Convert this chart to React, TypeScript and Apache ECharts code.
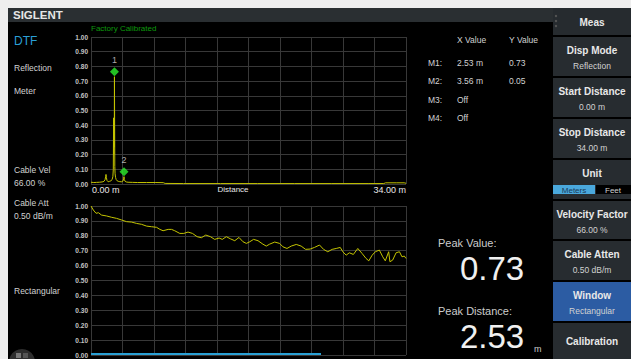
import React, { useEffect, useRef } from "react";
import * as echarts from "echarts";

// DTF trace (distance in m, reflection coefficient)
const distM = [0, 0.3, 0.6, 0.9, 1.2, 1.4, 1.52, 1.58, 1.62, 1.66, 1.72, 1.85, 2.0, 2.15, 2.28, 2.36, 2.41, 2.44, 2.46, 2.48, 2.5, 2.52, 2.53, 2.55, 2.57, 2.6, 2.65, 2.72, 2.82, 2.95, 3.1, 3.3, 3.45, 3.52, 3.56, 3.6, 3.68, 3.8, 4.0, 4.5, 5.0, 6.0, 7.0, 7.8, 8.0, 10, 14, 18, 22, 26, 30, 31.6, 31.8, 33, 33.8, 34];
const reflect = [0.012, 0.01, 0.011, 0.012, 0.014, 0.018, 0.03, 0.05, 0.065, 0.045, 0.025, 0.015, 0.018, 0.022, 0.03, 0.05, 0.1, 0.45, 0.2, 0.43, 0.25, 0.41, 0.73, 0.4, 0.12, 0.07, 0.045, 0.03, 0.022, 0.018, 0.016, 0.015, 0.02, 0.035, 0.05, 0.03, 0.018, 0.014, 0.012, 0.011, 0.01, 0.01, 0.01, 0.009, 0.004, 0.003, 0.003, 0.003, 0.003, 0.003, 0.003, 0.003, 0.008, 0.008, 0.008, 0.005];

// Frequency-domain trace (MHz, magnitude)
const freqMHz = [10, 21, 34, 45, 60, 84, 108, 131, 155, 178, 202, 226, 249, 273, 296, 320, 336, 351, 375, 391, 406, 430, 449, 469, 490, 512, 532, 553, 575, 595, 616, 631, 650, 669, 690, 710, 729, 745, 761, 779, 800, 823, 839, 855, 879, 902, 918, 937, 957, 981, 1004, 1025, 1047, 1067, 1091, 1110, 1130, 1151, 1170, 1189, 1201, 1217, 1232, 1251, 1272, 1292, 1311, 1324, 1340, 1355, 1374, 1390, 1402, 1418, 1424, 1437, 1453, 1469, 1481, 1492, 1500];
const freqVals = [1.0, 0.973, 0.951, 0.955, 0.939, 0.933, 0.924, 0.917, 0.906, 0.895, 0.892, 0.883, 0.877, 0.865, 0.861, 0.857, 0.843, 0.834, 0.843, 0.843, 0.834, 0.816, 0.816, 0.825, 0.816, 0.794, 0.787, 0.805, 0.794, 0.776, 0.785, 0.776, 0.794, 0.78, 0.767, 0.789, 0.76, 0.749, 0.76, 0.776, 0.767, 0.744, 0.731, 0.744, 0.758, 0.749, 0.726, 0.715, 0.731, 0.742, 0.731, 0.709, 0.711, 0.722, 0.738, 0.709, 0.693, 0.709, 0.715, 0.722, 0.693, 0.67, 0.686, 0.675, 0.715, 0.682, 0.648, 0.632, 0.67, 0.693, 0.704, 0.659, 0.632, 0.693, 0.626, 0.637, 0.686, 0.693, 0.659, 0.664, 0.648];

// Markers
const markerNames = ["M1:", "M2:", "M3:", "M4:"];
const markerX = ["2.53 m", "3.56 m", "Off", "Off"];
const markerY = ["0.73", "0.05", "", ""];
const markerDist = [2.53, 3.56];
const markerVal = [0.73, 0.05];

const FONT = '"Liberation Sans", Arial, sans-serif';

function txt(text: string, x: number, y: number, size: number, fill: string, opts: any = {}) {
  const align = opts.align || "left";
  const weight = opts.weight || "normal";
  return {
    type: "text",
    x,
    y,
    silent: true,
    z: 10,
    style: {
      text,
      fill,
      fontSize: size,
      fontFamily: FONT,
      fontWeight: weight,
      align,
      verticalAlign: "middle",
      textAlign: align,
      textVerticalAlign: "middle",
    },
  };
}

function rect(x: number, y: number, w: number, h: number, fill: string, z = 1) {
  return { type: "rect", shape: { x, y, width: w, height: h }, style: { fill }, silent: true, z };
}

export default function App() {
  const ref = useRef<HTMLDivElement>(null);
  useEffect(() => {
    if (!ref.current) return;
    const chart = echarts.init(ref.current, undefined, { renderer: "svg" });

    const panelX = 553;
    const panelW = 78;
    const cx = panelX + panelW / 2;
    const btnBg = "#272c30";
    const white = "#e8e8e8";
    const soft = "#d2d2d2";

    const buttons: any[] = [];
    const btn = (y0: number, y1: number, title: string, value: string | null, bg = btnBg) => {
      buttons.push(rect(panelX, y0, panelW, y1 - y0, bg, 2));
      if (value !== null) {
        buttons.push(txt(title, cx, y0 + 13, 10, white, { align: "center", weight: "bold" }));
        if (value) buttons.push(txt(value, cx, y0 + 29, 8.5, soft, { align: "center" }));
      }
    };
    btn(37, 76, "Disp Mode", "Reflection");
    btn(78, 117, "Start Distance", "0.00 m");
    btn(119, 158, "Stop Distance", "34.00 m");
    btn(160, 199, "Unit", "");
    btn(201, 239, "Velocity Factor", "66.00 %");
    btn(241, 280, "Cable Atten", "0.50 dB/m");
    btn(282, 321, "Window", "Rectangular", "#2c5ca3");
    buttons.push(rect(panelX, 323, panelW, 40, btnBg, 2));
    buttons.push(txt("Calibration", cx, 341, 10, white, { align: "center", weight: "bold" }));

    const graphic: any[] = [
      rect(0, 0, 631, 359, "#eeeeee", 0),
      rect(8, 8, 623, 351, "#000000", 0),
      rect(8, 8, 545, 14, "#2a2f32", 1),
      txt("SIGLENT", 13, 15, 11.5, "#e6e6e6", { weight: "bold" }),
      rect(panelX, 8, panelW, 27, "#262b2f", 1),
      { type: "circle", shape: { cx: 556, cy: 16, r: 1.2 }, style: { fill: "#555" }, z: 3, silent: true },
      { type: "circle", shape: { cx: 556, cy: 21, r: 1.2 }, style: { fill: "#555" }, z: 3, silent: true },
      { type: "circle", shape: { cx: 556, cy: 26, r: 1.2 }, style: { fill: "#555" }, z: 3, silent: true },
      txt("Meas", cx, 22, 10, white, { align: "center", weight: "bold" }),
      ...buttons,
      rect(553, 185, 42, 9, "#4aa8dc", 3),
      rect(596, 185, 35, 9, "#000000", 3),
      txt("Meters", 574, 190, 8, "#1b3a55", { align: "center" }),
      txt("Feet", 613, 190, 8, soft, { align: "center" }),
      // left labels
      txt("DTF", 14, 41, 12, "#2a9fd6"),
      txt("Reflection", 14, 68, 8.5, soft),
      txt("Meter", 14, 91, 8.5, soft),
      txt("Cable Vel", 14, 170, 8.5, soft),
      txt("66.00 %", 14, 183, 8.5, soft),
      txt("Cable Att", 14, 203, 8.5, soft),
      txt("0.50 dB/m", 14, 216, 8.5, soft),
      txt("Rectangular", 14, 291, 8.5, soft),
      txt("Factory Calibrated", 91, 28, 8, "#0d9a0d"),
      // axis texts
      txt("0.00 m", 92, 190, 9, white),
      txt("Distance", 233, 189, 8, white, { align: "center" }),
      txt("34.00 m", 406, 190, 9, white, { align: "right" }),
      txt("10.000000 MHz", 92, 362, 9, white),
      txt("Frequency", 236, 362, 8, white, { align: "center" }),
      txt("1.500000000 GHz", 406, 362, 9, white, { align: "right" }),
      rect(91, 353, 230, 2, "#2aa0d4", 5),
      // marker table
      txt("X Value", 457, 40, 8.5, soft),
      txt("Y Value", 509, 40, 8.5, soft),
      ...markerNames.flatMap((m, i) => [
        txt(m, 428, 63 + i * 18.4, 8.5, soft),
        txt(markerX[i], 457, 63 + i * 18.4, 8.5, soft),
        txt(markerY[i], 509, 63 + i * 18.4, 8.5, soft),
      ]),
      // peak readouts
      txt("Peak Value:", 438, 243, 11, "#cccccc"),
      txt(markerY[0], 460, 268, 33, "#f0f0f0"),
      txt("Peak Distance:", 438, 311, 11, "#cccccc"),
      txt(markerX[0].replace(" m", ""), 460, 336, 33, "#f0f0f0"),
      txt("m", 534, 349, 9, "#cccccc"),
      // bottom-left icon
      { type: "circle", shape: { cx: 22, cy: 362, r: 13 }, style: { fill: "#2e2e2e" }, z: 3, silent: true },
      rect(16, 353, 5, 5, "#777", 4),
      rect(23, 353, 5, 5, "#555", 4),
    ];

    const axisLbl = {
      show: true,
      color: "#c4c4c4",
      fontSize: 6.5,
      fontWeight: "bold" as const,
      fontFamily: FONT,
      margin: 3,
      formatter: (v: number) => v.toFixed(2),
    };
    const split = { show: true, lineStyle: { color: "#383838", width: 1 } };

    chart.setOption({
      animation: false,
      backgroundColor: "transparent",
      graphic,
      grid: [
        { left: 91, top: 37, width: 315, height: 147, show: true, borderColor: "#666", borderWidth: 1, backgroundColor: "transparent" },
        { left: 91, top: 206, width: 315, height: 149, show: true, borderColor: "#666", borderWidth: 1, backgroundColor: "transparent" },
      ],
      xAxis: [
        { type: "value", gridIndex: 0, min: 0, max: 34, interval: 3.4, axisLabel: { show: false }, axisTick: { show: false }, axisLine: { show: false }, splitLine: split },
        { type: "value", gridIndex: 1, min: 0, max: 10, interval: 1, axisLabel: { show: false }, axisTick: { show: false }, axisLine: { show: false }, splitLine: split },
        { type: "value", gridIndex: 1, min: 10, max: 1500, show: false, splitLine: { show: false } },
      ],
      yAxis: [
        { type: "value", gridIndex: 0, min: 0, max: 1, interval: 0.1, axisLabel: axisLbl, axisTick: { show: false }, axisLine: { show: false }, splitLine: split },
        { type: "value", gridIndex: 1, min: 0, max: 1, interval: 0.1, axisLabel: axisLbl, axisTick: { show: false }, axisLine: { show: false }, splitLine: split },
      ],
      series: [
        {
          type: "line",
          xAxisIndex: 0,
          yAxisIndex: 0,
          data: distM.map((d, i) => [d, reflect[i]]),
          showSymbol: false,
          lineStyle: { color: "#c4c400", width: 1 },
          z: 5,
        },
        {
          type: "scatter",
          xAxisIndex: 0,
          yAxisIndex: 0,
          data: markerDist.map((d, i) => [d, markerVal[i]]),
          symbol: "diamond",
          symbolSize: 9,
          symbolOffset: [0, -5],
          itemStyle: { color: "#2cf02c" },
          label: {
            show: true,
            position: "top",
            distance: 3,
            color: "#d8d8d8",
            fontSize: 9,
            fontFamily: FONT,
            formatter: (p: any) => String(p.dataIndex + 1),
          },
          z: 6,
        },
        {
          type: "line",
          xAxisIndex: 2,
          yAxisIndex: 1,
          data: freqMHz.map((f, i) => [f, freqVals[i]]),
          showSymbol: false,
          lineStyle: { color: "#c4c400", width: 1 },
          z: 5,
        },
      ],
    });
    return () => chart.dispose();
  }, []);
  return <div ref={ref} style={{ position: "absolute", left: 0, top: 0, width: 631, height: 359 }} />;
}
